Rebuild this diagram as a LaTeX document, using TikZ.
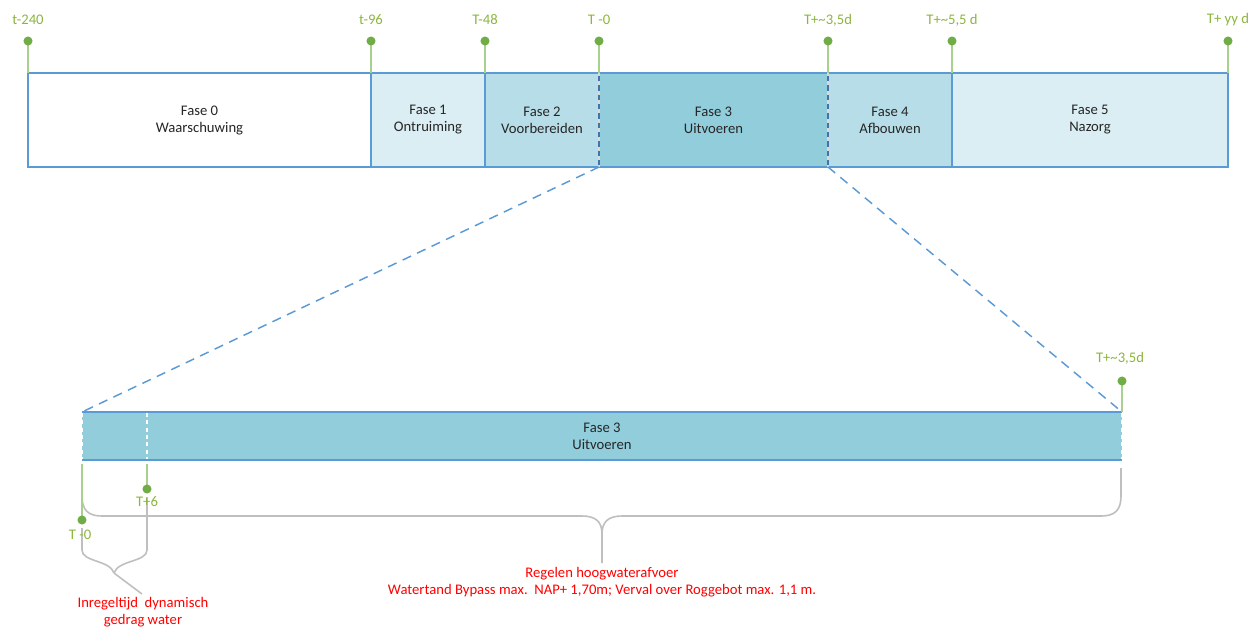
\documentclass[tikz,border=0pt]{standalone}
\usepackage{fontspec}
\setmainfont{Carlito}
\usetikzlibrary{positioning}

\definecolor{bordblue}{RGB}{91,155,213}
\definecolor{darkblue}{RGB}{68,114,170}
\definecolor{faseA}{RGB}{218,238,243}
\definecolor{faseB}{RGB}{183,222,232}
\definecolor{faseC}{RGB}{146,205,220}
\definecolor{pingreen}{RGB}{112,173,71}
\definecolor{pinline}{RGB}{169,209,142}
\definecolor{pintext}{RGB}{140,182,62}
\definecolor{bracegrey}{RGB}{191,191,191}
\definecolor{txtgrey}{RGB}{38,38,38}

\tikzset{
  fasetext/.style={align=center, font=\fontsize{11}{12.75}\selectfont, text=txtgrey},
  pinlabel/.style={font=\fontsize{11}{12.75}\selectfont, text=pintext},
  pinline/.style={draw=pinline, line width=1.3pt},
  pindot/.style={fill=pingreen},
  border/.style={draw=bordblue, line width=1.5pt},
  zoomline/.style={draw=bordblue, line width=1.1pt, dash pattern=on 7pt off 5pt},
  whitedash/.style={draw=white, line width=1.1pt, dash pattern=on 3pt off 2.5pt},
  bracket/.style={draw=bracegrey, line width=1.2pt},
  note/.style={align=center, font=\fontsize{11}{12.75}\selectfont, text=red}
}

\begin{document}
\begin{tikzpicture}[x=0.75pt,y=-0.75pt]
\useasboundingbox (0,0) rectangle (1255,629);

% Top bar phases
\foreach \xa/\xb/\col/\nm/\txt in {
  28/371/white/f0/{Fase 0\\Waarschuwing},
  371/485/faseA/f1/{Fase 1\\Ontruiming},
  485/599/faseB/f2/{Fase 2\\Voorbereiden},
  599/828/faseC/f3/{Fase 3\\Uitvoeren},
  828/952/faseB/f4/{Fase 4\\Afbouwen},
  952/1228/faseA/f5/{Fase 5\\Nazorg}} {
  \fill[\col] (\xa,73) rectangle (\xb,167);
  \node[fasetext] (\nm) at ({(\xa+\xb)/2},120) {\txt};
}

% Borders
\draw[border] (28,73) rectangle (1228,167);
\foreach \x in {371,485,952}
  \draw[border] (\x,73) -- (\x,167);
\foreach \x in {599,828} {
  \draw[draw=white!85!black, line width=1.3pt] (\x,73) -- (\x,167);
  \draw[draw=darkblue, line width=1.3pt, dash pattern=on 4pt off 3pt] (\x,76) -- (\x,167);
}

% Pins top
\foreach \x/\lab/\nm in {28/t-240/pa, 371/t-96/pb, 485/T-48/pc, 599/T -0/pd,
                         828/T+\char`\~3{,}5d/pe, 952/T+\char`\~ 5{,}5 d/pf, 1228/T+ yy d/pg} {
  \draw[pinline] (\x,73) -- (\x,41);
  \fill[pindot] (\x,41) circle (3.4pt);
  \node[pinlabel] (\nm) at (\x,20) {\lab};
}

% Zoom lines
\coordinate (zl) at (599,167);
\coordinate (zr) at (828,167);
\coordinate (bl) at (82,412);
\coordinate (br) at (1122,412);
\draw[zoomline] (zl) -- (bl);
\draw[zoomline] (zr) -- (br);

% Lower bar
\fill[faseC] (82,412) rectangle (1122,460);
\draw[border] (82,412) -- (1122,412);
\draw[border] (82,460) -- (1122,460);
\foreach \x in {82,147,1122}
  \draw[whitedash] (\x,413) -- (\x,459);
\node[fasetext] (f3b) at (602,436) {Fase 3\\Uitvoeren};

% Pin lower right
\draw[pinline] (br) -- (1122,381);
\fill[pindot] (1122,381) circle (3.4pt);
\node[pinlabel] (ph) at (1120,358) {T+\char`\~3{,}5d};

% Brackets
\draw[bracket] (82,464) -- (82,496) .. controls (82,510) and (88,516) .. (102,516)
  -- (582,516) .. controls (596,516) and (602,522) .. (602,534) -- (602,563);
\draw[bracket] (1121,468) -- (1121,496) .. controls (1121,510) and (1115,516) .. (1101,516)
  -- (622,516) .. controls (608,516) and (602,522) .. (602,534);
\draw[bracket] (82,528) -- (82,550) .. controls (82,562) and (110,560) .. (114,573);
\draw[bracket] (147,497) -- (147,550) .. controls (147,562) and (118,560) .. (114,573);
\draw[bracket] (114,573) -- (142,594);

% Pins below lower bar
\draw[pinline] (82,464) -- (82,520);
\fill[pindot] (82,520) circle (3.4pt);
\node[pinlabel] (pi) at (80,535) {T -0};
\draw[pinline] (147,464) -- (147,489);
\fill[pindot] (147,489) circle (3.4pt);
\node[pinlabel] (pj) at (147,502) {T+6};

% Notes
\node[note] (n1) at (602,582) {Regelen hoogwaterafvoer\\Watertand Bypass max.\ \ NAP+ 1,70m; Verval over Roggebot max. 1,1 m.};
\node[note] (n2) at (143,612) {Inregeltijd\ \ dynamisch\\gedrag water};

\end{tikzpicture}
\end{document}
